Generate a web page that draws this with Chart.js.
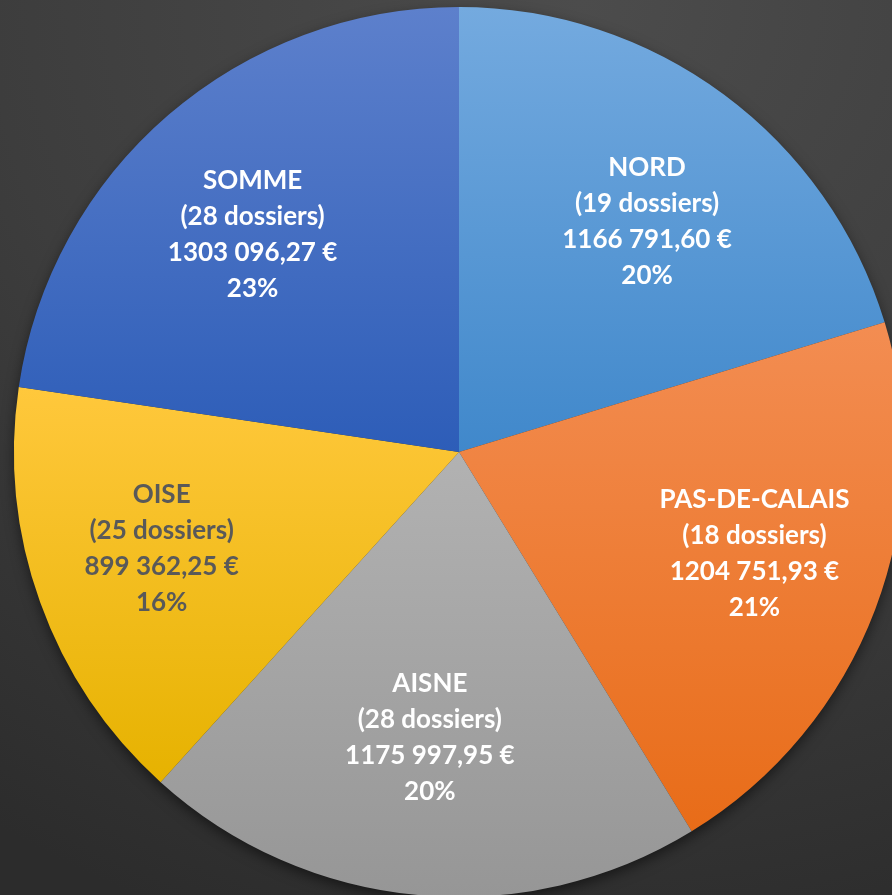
<!DOCTYPE html>
<html lang="fr">
<head>
  <meta charset="UTF-8">
  <title>Répartition par département</title>
  <script src="https://cdn.jsdelivr.net/npm/chart.js"></script>
  <style>
    html, body {
      margin: 0;
      padding: 0;
      width: 892px;
      height: 895px;
      overflow: hidden;
      background: radial-gradient(ellipse 120% 110% at 65% 0%, #4c4c4c 0%, #3d3d3d 55%, #2c2c2c 100%);
    }
    .chart-container {
      position: absolute;
      left: 0;
      top: 0;
      width: 918px;
      height: 904px;
    }
  </style>
</head>
<body>
  <div class="chart-container">
    <canvas id="pieChart" width="918" height="904"></canvas>
  </div>
  <script>
    const departements = ['NORD', 'PAS-DE-CALAIS', 'AISNE', 'OISE', 'SOMME'];
    const dossiers = [19, 18, 28, 25, 28];
    const montants = [1166791.60, 1204751.93, 1175997.95, 899362.25, 1303096.27];
    const pourcents = ['20%', '21%', '20%', '16%', '23%'];
    const couleursHaut = ['#74aadf', '#f38d52', '#b2b2b2', '#ffc83c', '#5d80cc'];
    const couleursBas = ['#4088cb', '#e86c18', '#969696', '#e6b200', '#2d5db8'];
    const couleursTexte = ['#ffffff', '#ffffff', '#ffffff', '#595959', '#ffffff'];

    // "1166 791,60 €"
    function formatEuro(v) {
      const parts = v.toFixed(2).split('.');
      const ent = parts[0];
      const head = ent.slice(0, -3);
      const tail = ent.slice(-3);
      return (head ? head + ' ' : '') + tail + ',' + parts[1] + ' €';
    }

    // vertical gradient over the bounding box of each slice
    function sliceGradient(context) {
      const chart = context.chart;
      const area = chart.chartArea;
      const i = context.dataIndex;
      if (!area) return couleursBas[i];
      const cx = (area.left + area.right) / 2;
      const cy = (area.top + area.bottom) / 2;
      const r = Math.min(area.right - area.left, area.bottom - area.top) / 2;
      const total = montants.reduce((a, b) => a + b, 0);
      let before = 0;
      for (let k = 0; k < i; k++) before += montants[k];
      const a0 = -Math.PI / 2 + before / total * Math.PI * 2;
      const a1 = a0 + montants[i] / total * Math.PI * 2;
      let ys = [cy, cy + Math.sin(a0) * r, cy + Math.sin(a1) * r];
      if (a0 <= -Math.PI / 2 + 1e-6 || a1 >= Math.PI * 1.5 - 1e-6) ys.push(cy - r);
      if (a0 <= Math.PI / 2 && a1 >= Math.PI / 2) ys.push(cy + r);
      const y0 = Math.min(...ys);
      const y1 = Math.max(...ys);
      const g = chart.ctx.createLinearGradient(0, y0, 0, y1);
      g.addColorStop(0, couleursHaut[i]);
      g.addColorStop(1, couleursBas[i]);
      return g;
    }

    const shadowPlugin = {
      id: 'shadow',
      beforeDatasetsDraw(chart) {
        const arc = chart.getDatasetMeta(0).data[0];
        if (!arc) return;
        const ctx = chart.ctx;
        ctx.save();
        ctx.shadowColor = 'rgba(0, 0, 0, 0.55)';
        ctx.shadowBlur = 14;
        ctx.shadowOffsetY = 5;
        ctx.fillStyle = '#333333';
        ctx.beginPath();
        ctx.arc(arc.x, arc.y, arc.outerRadius - 1, 0, Math.PI * 2);
        ctx.fill();
        ctx.restore();
      }
    };

    // labels sit on an ellipse inside the pie (wider than tall, like Excel's best fit)
    const labelPlugin = {
      id: 'sliceLabels',
      afterDatasetsDraw(chart) {
        const ctx = chart.ctx;
        const meta = chart.getDatasetMeta(0);
        ctx.save();
        ctx.font = 'bold 26px Lato, "Open Sans", sans-serif';
        ctx.textAlign = 'center';
        ctx.textBaseline = 'middle';
        meta.data.forEach((arc, i) => {
          const mid = (arc.startAngle + arc.endAngle) / 2;
          const x = arc.x + Math.cos(mid) * arc.outerRadius * 0.71;
          const y = arc.y + Math.sin(mid) * arc.outerRadius * 0.645;
          const lines = [
            departements[i],
            '(' + dossiers[i] + ' dossiers)',
            formatEuro(montants[i]),
            pourcents[i]
          ];
          const lh = 36;
          ctx.fillStyle = couleursTexte[i];
          lines.forEach((t, k) => {
            ctx.fillText(t, x, y + (k - 1.5) * lh);
          });
        });
        ctx.restore();
      }
    };

    new Chart(document.getElementById('pieChart').getContext('2d'), {
      type: 'pie',
      data: {
        labels: departements,
        datasets: [{
          data: montants,
          backgroundColor: sliceGradient,
          borderWidth: 0
        }]
      },
      options: {
        responsive: false,
        animation: false,
        layout: { padding: 7 },
        plugins: {
          legend: { display: false },
          tooltip: { enabled: false }
        }
      },
      plugins: [shadowPlugin, labelPlugin]
    });
  </script>
</body>
</html>
